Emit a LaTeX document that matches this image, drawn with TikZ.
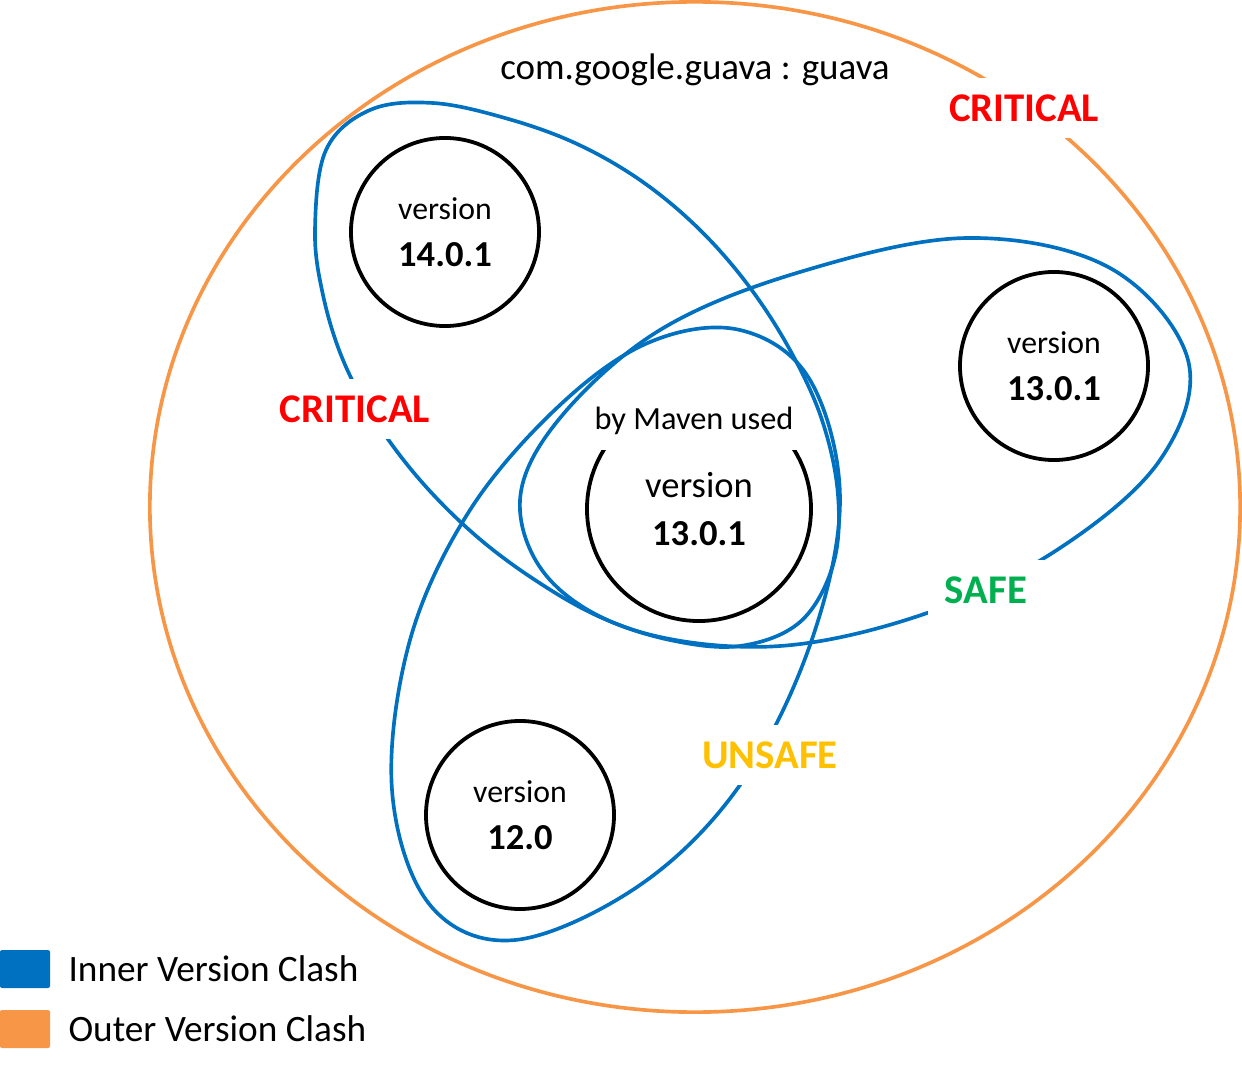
\documentclass[tikz,border=0pt]{standalone}
\usepackage{fontspec}
\setmainfont{Carlito}
\usetikzlibrary{positioning}
\definecolor{innerblue}{HTML}{0070C0}
\definecolor{outerorange}{HTML}{F79646}
\definecolor{critred}{HTML}{FF0000}
\definecolor{safegreen}{HTML}{00B050}
\definecolor{unsafeyellow}{HTML}{FFC000}
\begin{document}
\begin{tikzpicture}[x=0.025cm,y=-0.025cm,
    clash/.style={innerblue,line width=2.6pt},
    vcircle/.style={circle,draw,line width=2.7pt,minimum size=4.7cm,inner sep=0pt,
      align=center,font=\fontsize{22.6}{33}\selectfont},
    level/.style={fill=white,inner sep=12pt,font=\fontsize{29}{34}\selectfont\bfseries},
    legbox/.style={rounded corners=1.5pt,minimum width=1.25cm,minimum height=0.95cm,inner sep=0pt},
    legtext/.style={inner sep=0pt,font=\fontsize{26.5}{30}\selectfont}]
  \useasboundingbox (0,0) rectangle (1242,1076);
  % outer clash
  \draw [outerorange,line width=2.6pt] (695,507) ellipse [x radius=13.625cm,y radius=12.625cm];
  % inner clashes
  \draw [clash] plot [smooth cycle,tension=0.6] coordinates {(433,103) (505,118) (575,143)
    (640,180) (698,228) (748,285) (790,350) (822,420) (838,495) (833,565) (800,622)
    (740,646) (670,640) (600,617) (535,580) (475,535) (420,480) (375,420) (343,360)
    (323,295) (315,230) (326,150) (370,110)};
  \draw [clash] plot [smooth cycle,tension=0.6] coordinates {(967,238) (1110,268) (1188,360)
    (1160,460) (1060,548) (930,612) (780,646) (640,632) (550,580) (520,500) (560,418)
    (660,330) (800,272)};
  \draw [clash] plot [smooth cycle,tension=0.6] coordinates {(515,940) (640,885) (740,785)
    (810,645) (840,500) (810,380) (740,330) (650,342) (560,405) (470,510) (410,640)
    (392,790) (430,905)};
  % versions
  \node [vcircle] (v14) at (445,232) {version\\{\fontsize{26}{33}\selectfont\bfseries 14.0.1}};
  \node [vcircle] (v13) at (1054,366) {version\\{\fontsize{26}{33}\selectfont\bfseries 13.0.1}};
  \node [vcircle] (v12) at (520,815) {version\\{\fontsize{26}{33}\selectfont\bfseries 12.0}};
  \node [vcircle,minimum size=5.6cm,font=\fontsize{26}{33.5}\selectfont] (used) at (699,509)
    {version\\{\bfseries 13.0.1}};
  \node [fill=white,inner xsep=6pt,inner ysep=11pt,font=\fontsize{23}{28}\selectfont] (maven)
    at (694,421) {by Maven used};
  % labels
  \node [font=\fontsize{26.3}{30}\selectfont] (title) at (695,70) {com.google.guava : guava};
  \node [level,text=critred] (crittop) at (1024,108) {CRITICAL};
  \node [level,text=critred] (critleft) at (355,409) {CRITICAL};
  \node [level,text=safegreen] (safe) at (986,590) {SAFE};
  \node [level,text=unsafeyellow] (unsafe) at (770,755) {UNSAFE};
  % legend
  \node [legbox,fill=innerblue] (innerbox) at (25,969) {};
  \node [legtext,right=0.45cm of innerbox] (innertext) {Inner Version Clash};
  \node [legbox,fill=outerorange] (outerbox) at (25,1029) {};
  \node [legtext,right=0.45cm of outerbox] (outertext) {Outer Version Clash};
\end{tikzpicture}
\end{document}
